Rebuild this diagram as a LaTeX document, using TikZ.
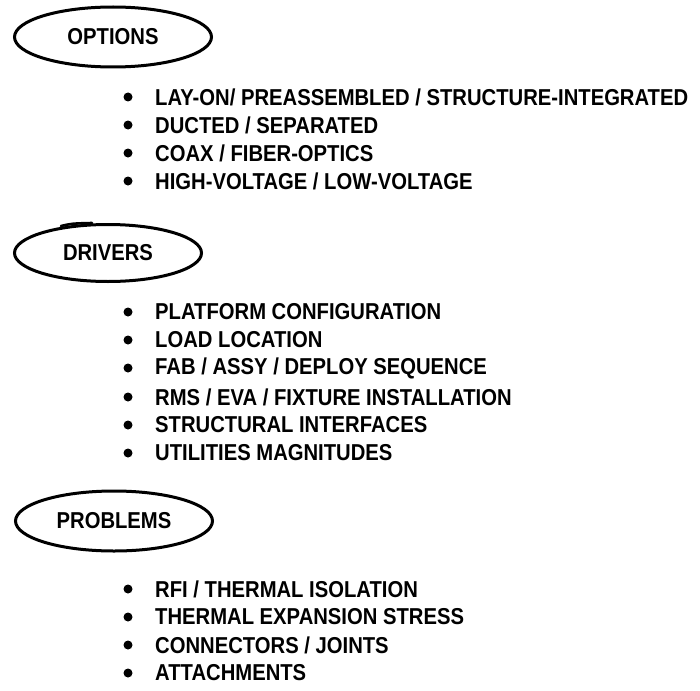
\documentclass[tikz,border=0pt]{standalone}
\usepackage{fontspec}
\setmainfont{Liberation Sans}[FakeStretch=0.88]
\usetikzlibrary{shapes.geometric}
\begin{document}
\begin{tikzpicture}[x=1pt,y=-1pt,
  hdr/.style={draw, ellipse, line width=3pt, inner sep=0pt,
    minimum width=197pt, minimum height=60pt,
    font=\bfseries\fontsize{23}{23}\selectfont},
  item/.style={anchor=west, inner sep=0pt,
    font=\bfseries\fontsize{23}{23}\selectfont},
  dot/.style={circle, fill, inner sep=0pt, minimum size=9pt}]
\fill[white] (0,0) rectangle (700,690);
\useasboundingbox (0,0) rectangle (700,690);

\node[hdr] (opt) at (113,37) {OPTIONS};
\node[dot] (ob1) at (128,97) {};  \node[item] (ot1) at (155,97) {LAY-ON/ PREASSEMBLED / STRUCTURE-INTEGRATED};
\node[dot] (ob2) at (128,125) {}; \node[item] (ot2) at (155,125) {DUCTED / SEPARATED};
\node[dot] (ob3) at (128,153) {}; \node[item] (ot3) at (155,153) {COAX / FIBER-OPTICS};
\node[dot] (ob4) at (128,181) {}; \node[item] (ot4) at (155,181) {HIGH-VOLTAGE / LOW-VOLTAGE};

\node[hdr, minimum width=187pt, minimum height=57pt] (drv) at (108,253) {DRIVERS};
\draw[line width=2.6pt, line cap=round] (61,226) .. controls (72,223.5) .. (92,223);
\node[dot] (db1) at (128,312) {}; \node[item] (dt1) at (155,312) {PLATFORM CONFIGURATION};
\node[dot] (db2) at (128,340) {}; \node[item] (dt2) at (155,340) {LOAD LOCATION};
\node[dot] (db3) at (128,368) {}; \node[item] (dt3) at (155,368) {FAB / ASSY / DEPLOY SEQUENCE};
\node[dot] (db4) at (128,397) {}; \node[item] (dt4) at (155,397) {RMS / EVA / FIXTURE INSTALLATION};
\node[dot] (db5) at (128,425) {}; \node[item] (dt5) at (155,425) {STRUCTURAL INTERFACES};
\node[dot] (db6) at (128,453) {}; \node[item] (dt6) at (155,453) {UTILITIES MAGNITUDES};

\node[hdr] (prb) at (114,521) {PROBLEMS};
\node[dot] (pb1) at (128,589) {}; \node[item] (pt1) at (155,589) {RFI / THERMAL ISOLATION};
\node[dot] (pb2) at (128,617) {}; \node[item] (pt2) at (155,617) {THERMAL EXPANSION STRESS};
\node[dot] (pb3) at (128,645) {}; \node[item] (pt3) at (155,645) {CONNECTORS / JOINTS};
\node[dot] (pb4) at (128,673) {}; \node[item] (pt4) at (155,673) {ATTACHMENTS};
\end{tikzpicture}
\end{document}
